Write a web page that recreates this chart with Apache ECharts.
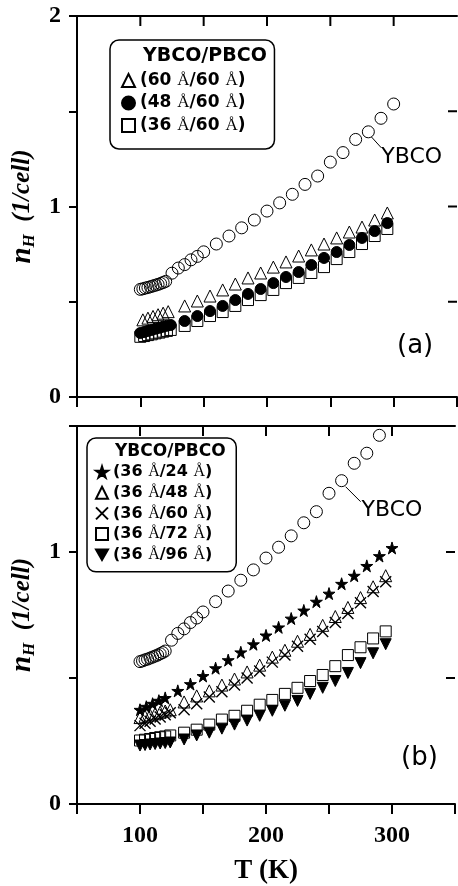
<!DOCTYPE html>
<html>
<head>
<meta charset="utf-8">
<script src="https://cdn.jsdelivr.net/npm/echarts@6/dist/echarts.min.js"></script>
<style>
  html, body { margin: 0; padding: 0; background: #fff; }
  #chart { width: 458px; height: 886px; }
</style>
</head>
<body>
<div id="chart"></div>
<script>
// YBCO single film (same curve in both panels)
var tYbco = [100, 102, 104, 106, 108, 110, 112, 114, 116, 118, 120, 125, 130, 135, 140, 145, 150,
  160, 170, 180, 190, 200, 210, 220, 230, 240, 250, 260, 270, 280, 290, 300];
var nYbco = [0.565, 0.568, 0.572, 0.575, 0.579, 0.583, 0.587, 0.591, 0.596, 0.601, 0.607, 0.650, 0.677, 0.695, 0.720, 0.738, 0.762,
  0.803, 0.845, 0.888, 0.929, 0.976, 1.019, 1.064, 1.116, 1.160, 1.233, 1.283, 1.352, 1.392, 1.463, 1.538];

// panel (a)
var tA1 = [102, 106, 110, 114, 118, 122, 135, 145, 155, 165, 175, 185, 195, 205, 215, 225, 235, 245, 255, 265, 275, 285, 295];
var n60_60 = [0.405, 0.414, 0.423, 0.432, 0.440, 0.448, 0.478, 0.504, 0.530, 0.562, 0.593, 0.625, 0.651, 0.682, 0.709, 0.740,
  0.772, 0.803, 0.835, 0.866, 0.892, 0.929, 0.966];
var tA2 = [100, 103, 106, 109, 112, 115, 118, 121, 124, 135, 145, 155, 165, 175, 185, 195, 205, 215, 225, 235, 245, 255, 265, 275, 285, 295];
var n48_60 = [0.336, 0.341, 0.347, 0.352, 0.358, 0.363, 0.369, 0.374, 0.378, 0.399, 0.425, 0.451, 0.478, 0.509, 0.541, 0.567,
  0.598, 0.630, 0.656, 0.693, 0.730, 0.761, 0.798, 0.835, 0.871, 0.913];
var n36_60a = [0.316, 0.320, 0.325, 0.329, 0.334, 0.338, 0.343, 0.347, 0.352, 0.373, 0.399, 0.425, 0.446, 0.478, 0.509, 0.535,
  0.562, 0.598, 0.625, 0.651, 0.682, 0.724, 0.761, 0.803, 0.845, 0.882];

// panel (b)
var tB1 = [100, 105, 110, 115, 120, 130, 140, 150, 160, 170, 180, 190, 200, 210, 220, 230, 240, 250, 260, 270, 280, 290, 300];
var n36_24 = [0.374, 0.386, 0.398, 0.410, 0.421, 0.449, 0.476, 0.508, 0.539, 0.571, 0.602, 0.634, 0.669, 0.701, 0.736, 0.768,
  0.803, 0.835, 0.874, 0.906, 0.945, 0.984, 1.016];
var tB2 = [100, 104, 108, 112, 116, 120, 124, 135, 145, 155, 165, 175, 185, 195, 205, 215, 225, 235, 245, 255, 265, 275, 285, 295];
var n36_48 = [0.343, 0.348, 0.353, 0.358, 0.364, 0.369, 0.374, 0.405, 0.429, 0.449, 0.472, 0.496, 0.524, 0.551, 0.583, 0.610,
  0.646, 0.673, 0.709, 0.744, 0.780, 0.819, 0.862, 0.906];
var n36_60b = [0.311, 0.320, 0.328, 0.337, 0.345, 0.354, 0.362, 0.374, 0.398, 0.425, 0.445, 0.472, 0.500, 0.528, 0.563, 0.591,
  0.626, 0.654, 0.685, 0.720, 0.756, 0.799, 0.843, 0.882];
var n36_72 = [0.252, 0.255, 0.258, 0.262, 0.265, 0.268, 0.272, 0.283, 0.295, 0.315, 0.335, 0.350, 0.370, 0.394, 0.413, 0.437,
  0.461, 0.488, 0.512, 0.547, 0.591, 0.622, 0.657, 0.685];
var n36_96 = [0.232, 0.234, 0.236, 0.238, 0.240, 0.242, 0.244, 0.256, 0.272, 0.283, 0.299, 0.315, 0.331, 0.350, 0.370, 0.390,
  0.409, 0.437, 0.461, 0.488, 0.520, 0.559, 0.598, 0.634];

// frame tick positions on the top and right edges
var frameT = [100, 150, 200, 250, 300];
var frameNa = [0.5, 1, 1.5];
var frameNb = [0.5, 1];

var namesA = ['(60 Å/60 Å)', '(48 Å/60 Å)', '(36 Å/60 Å)'];
var namesB = ['(36 Å/24 Å) ', '(36 Å/48 Å) ', '(36 Å/60 Å) ', '(36 Å/72 Å) ', '(36 Å/96 Å) '];

var STAR = 'path://M50,0L61,35L98,35L68,57L79,91L50,70L21,91L32,57L2,35L39,35Z';
var DOWN = 'path://M0,0L100,0L50,87Z';
var CROSS = 'path://M0,0L100,100M100,0L0,100';

function pairs(xs, ys) {
  return xs.map(function (x, i) { return [x, ys[i]]; });
}

var chart = echarts.init(document.getElementById('chart'));

var serif = 'Liberation Serif';
var sans = 'DejaVu Sans';

function xAxes(grid, withLabels) {
  var bottom = {
    type: 'value', gridIndex: grid, min: 50, max: 350, interval: 50,
    position: 'bottom',
    splitLine: { show: false },
    axisLine: { show: true, onZero: false, lineStyle: { color: '#000', width: 2 } },
    axisTick: { show: true, inside: false, length: 10, lineStyle: { color: '#000', width: 2 } },
    axisLabel: {
      show: withLabels, margin: 20, color: '#000', fontFamily: serif, fontWeight: 'bold', fontSize: 24,
      formatter: function (v) { return (v % 100 === 0 && v > 50 && v < 350) ? v : ''; }
    }
  };
  if (withLabels) {
    bottom.name = 'T (K)';
    bottom.nameLocation = 'middle';
    bottom.nameGap = 54;
    bottom.nameTextStyle = { color: '#000', fontFamily: serif, fontWeight: 'bold', fontSize: 27 };
  }
  var top = {
    type: 'value', gridIndex: grid, min: 50, max: 350, interval: 50,
    position: 'top',
    splitLine: { show: false },
    axisLine: { show: true, onZero: false, lineStyle: { color: '#000', width: 2 } },
    axisTick: { show: false },
    axisLabel: { show: false }
  };
  return [bottom, top];
}

function yAxes(grid, max) {
  var left = {
    type: 'value', gridIndex: grid, min: 0, max: max, interval: 0.5,
    position: 'left',
    splitLine: { show: false },
    axisLine: { show: true, onZero: false, lineStyle: { color: '#000', width: 2 } },
    axisTick: { show: true, inside: false, length: 8, lineStyle: { color: '#000', width: 2 } },
    axisLabel: {
      margin: 16, color: '#000', fontFamily: serif, fontWeight: 'bold', fontSize: 24,
      formatter: function (v) { return v % 1 === 0 ? v : ''; }
    },
    name: '{n|n}{h|H}  (1/cell)',
    nameLocation: 'middle',
    nameGap: 36,
    nameTextStyle: {
      color: '#000', fontFamily: serif, fontStyle: 'italic', fontWeight: 'bold', fontSize: 25,
      rich: {
        n: { fontFamily: serif, fontStyle: 'italic', fontWeight: 'bold', fontSize: 29, color: '#000' },
        h: { fontFamily: serif, fontStyle: 'italic', fontWeight: 'bold', fontSize: 17, color: '#000', padding: [14, 0, 0, 0] }
      }
    }
  };
  var right = {
    type: 'value', gridIndex: grid, min: 0, max: max, interval: 0.5,
    position: 'right',
    splitLine: { show: false },
    axisLine: { show: false },
    axisTick: { show: false },
    axisLabel: { show: false }
  };
  return [left, right];
}

var openStyle = { color: 'rgba(255,255,255,0)', borderColor: '#000', borderWidth: 1, opacity: 1 };
var fillStyle = { color: '#000', borderColor: '#000', borderWidth: 1, opacity: 1 };
var crossStyle = { color: 'rgba(255,255,255,0)', borderColor: '#000', borderWidth: 1.4, opacity: 1 };

function sc(name, grid, data, symbol, size, style) {
  return {
    name: name, type: 'scatter', xAxisIndex: grid * 2, yAxisIndex: grid * 2,
    data: data, symbol: symbol, symbolSize: size, itemStyle: style,
    clip: true, silent: true, animation: false
  };
}

function legendFmt(name) {
  return name.trim().replace(/Å/g, '{a|Å}');
}

var option = {
  animation: false,
  backgroundColor: '#fff',
  grid: [
    { left: 77, right: 1, top: 16, height: 381 },
    { left: 77, right: 1, top: 426, height: 381 }
  ],
  xAxis: xAxes(0, false).concat(xAxes(1, true)),
  yAxis: yAxes(0, 2).concat(yAxes(1, 1.5)),
  legend: [
    {
      data: namesA, orient: 'vertical', left: 110, top: 40,
      padding: [32, 29, 15, 11], itemGap: 5.5, itemWidth: 13, itemHeight: 13, itemTextGap: 9,
      borderColor: '#000', borderWidth: 1.5, borderRadius: 9,
      selectedMode: false, formatter: legendFmt,
      textStyle: {
        color: '#000', fontFamily: sans, fontWeight: 'bold', fontSize: 17,
        rich: { a: { fontFamily: serif, fontWeight: 'normal', fontSize: 17, color: '#000' } }
      }
    },
    {
      data: namesB, orient: 'vertical', left: 87, top: 438,
      padding: [26, 24, 9, 8], itemGap: 4.7, itemWidth: 12, itemHeight: 12, itemTextGap: 9,
      borderColor: '#000', borderWidth: 1.5, borderRadius: 9,
      selectedMode: false, formatter: legendFmt,
      textStyle: {
        color: '#000', fontFamily: sans, fontWeight: 'bold', fontSize: 16,
        rich: { a: { fontFamily: serif, fontWeight: 'normal', fontSize: 16, color: '#000' } }
      }
    }
  ],
  series: [
    sc('YBCO', 0, pairs(tYbco, nYbco), 'circle', 12, openStyle),
    sc(namesA[0], 0, pairs(tA1, n60_60), 'triangle', 12, openStyle),
    sc(namesA[2], 0, pairs(tA2, n36_60a), 'rect', 11, openStyle),
    sc(namesA[1], 0, pairs(tA2, n48_60), 'circle', 11, fillStyle),
    sc('YBCO ', 1, pairs(tYbco, nYbco), 'circle', 12, openStyle),
    sc(namesB[0], 1, pairs(tB1, n36_24), STAR, 12, fillStyle),
    sc(namesB[1], 1, pairs(tB2, n36_48), 'triangle', 12, openStyle),
    sc(namesB[2], 1, pairs(tB2, n36_60b), CROSS, 11, crossStyle),
    sc(namesB[4], 1, pairs(tB2, n36_96), DOWN, 11, fillStyle),
    sc(namesB[3], 1, pairs(tB2, n36_72), 'rect', 11, openStyle)
  ]
};
chart.setOption(option);

// inward tick marks on the top and right edges, placed through each panel's axes
function frameTicks(axisIdx, ymax, ticksN) {
  var out = [];
  var finder = { xAxisIndex: axisIdx, yAxisIndex: axisIdx };
  frameT.forEach(function (t) {
    var p = chart.convertToPixel(finder, [t, ymax]);
    out.push({ type: 'rect', z: 100, shape: { x: p[0] - 1, y: p[1], width: 2, height: 10 }, style: { fill: '#000' } });
  });
  ticksN.forEach(function (n) {
    var p = chart.convertToPixel(finder, [350, n]);
    out.push({ type: 'rect', z: 100, shape: { x: p[0] - 9, y: p[1] - 1, width: 9, height: 2 }, style: { fill: '#000' } });
  });
  return out;
}

// labels that point at the YBCO curve
var pa = chart.convertToPixel({ xAxisIndex: 0, yAxisIndex: 0 }, [280, 1.392]);
var pb = chart.convertToPixel({ xAxisIndex: 2, yAxisIndex: 2 }, [260, 1.283]);
var labelFont = { fill: '#000', fontFamily: sans, fontSize: 22 };

chart.setOption({
  graphic: [
    { type: 'text', left: 143, top: 47, style: { text: 'YBCO/PBCO', fill: '#000', fontFamily: sans, fontWeight: 'bold', fontSize: 19 } },
    { type: 'text', left: 115, top: 443, style: { text: 'YBCO/PBCO', fill: '#000', fontFamily: sans, fontWeight: 'bold', fontSize: 17 } },
    { type: 'line', shape: { x1: pa[0] + 3, y1: pa[1] + 5, x2: pa[0] + 13, y2: pa[1] + 16 }, style: { stroke: '#000', lineWidth: 1 } },
    { type: 'text', x: pa[0] + 13, y: pa[1] + 14, style: Object.assign({ text: 'YBCO' }, labelFont) },
    { type: 'line', shape: { x1: pb[0] + 4, y1: pb[1] + 6, x2: pb[0] + 19, y2: pb[1] + 21 }, style: { stroke: '#000', lineWidth: 1 } },
    { type: 'text', x: pb[0] + 20, y: pb[1] + 19, style: Object.assign({ text: 'YBCO' }, labelFont) },
    { type: 'text', left: 397, top: 333, style: { text: '(a)', fill: '#000', fontFamily: sans, fontSize: 26 } },
    { type: 'text', left: 401, top: 745, style: { text: '(b)', fill: '#000', fontFamily: sans, fontSize: 26 } }
  ].concat(frameTicks(0, 2, frameNa), frameTicks(2, 1.5, frameNb))
});
</script>
</body>
</html>
